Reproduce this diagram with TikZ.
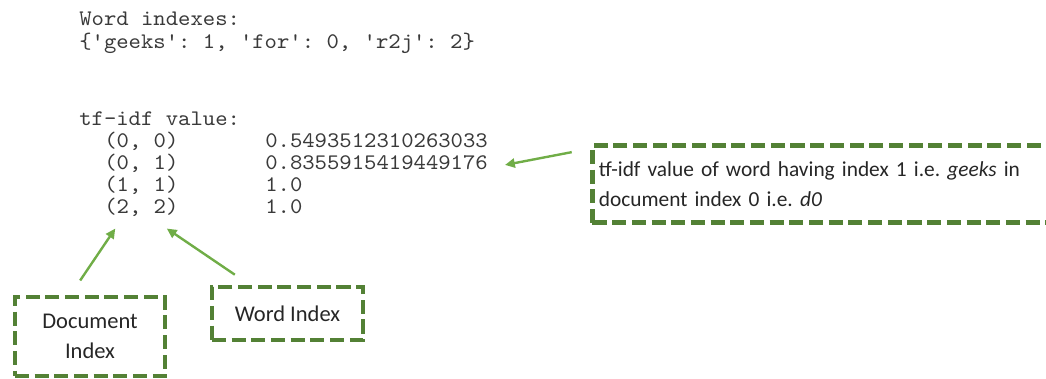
\documentclass[tikz,border=0pt]{standalone}
\usepackage{fontspec}
\setmainfont{Carlito}
\setmonofont{lmmono10-regular.otf}[FakeStretch=1.06]
\usetikzlibrary{arrows.meta,positioning}
\usepackage{xcolor}
\definecolor{boxgreen}{HTML}{538135}
\definecolor{arrowgreen}{HTML}{70AD47}
\definecolor{codegray}{HTML}{3A3A3A}
\frenchspacing

\begin{document}
\begin{tikzpicture}[x=0.025cm, y=-0.025cm,
  code/.style = {anchor=base west, inner sep=0pt, text height=9pt, text depth=2.5pt, text=codegray, font=\ttfamily\fontsize{15.8}{18}\selectfont},
  note/.style = {draw=boxgreen, line width=3.5pt, dash pattern=on 10pt off 4pt, text=black!85, font=\fontsize{16}{21.3}\selectfont},
  pointer/.style = {draw=arrowgreen, line width=1.7pt, -{Triangle[length=7pt,width=6.5pt]}}]
  \useasboundingbox (0,0) rectangle (1046,378);
  % program output
  \node[code] (words) at (79,25) {Word indexes:};
  \node[code] (dict) at (79,48) {\{'geeks': 1, 'for': 0, 'r2j': 2\}};
  \node[code] (tfidf) at (79,125) {tf-idf value:};
  \node[code] (r1) at (104,147) {(0, 0)};
  \node[code] (v1) at (265,147) {0.5493512310263033};
  \node[code] (r2) at (104,169.5) {(0, 1)};
  \node[code] (v2) at (265,169.5) {0.8355915419449176};
  \node[code] (r3) at (104,191.5) {(1, 1)};
  \node[code] (v3) at (265,191.5) {1.0};
  \node[code] (r4) at (104,213.5) {(2, 2)};
  \node[code] (v4) at (265,213.5) {1.0};
  % callouts
  \node[note, anchor=north west, minimum width=356pt, minimum height=54.8pt, inner xsep=4.5pt, text width=347pt, align=left,
        font=\fontsize{15.2}{21.3}\selectfont] (desc) at (590,143)
    {tf-idf value of word having index 1 i.e. \textit{geeks} in\\document index 0 i.e. \textit{d0}};
  \node[note, minimum width=106.7pt, minimum height=56.2pt, align=center] (docidx) at (90,336.5) {Document\\Index};
  \node[note, minimum width=107.4pt, minimum height=37.7pt] (wordidx) at (287.5,313.5) {Word Index};
  \draw[pointer] ([shift={(-13pt,-6.5pt)}]desc.north west) -- ([shift={(12pt,0pt)}]v2.east);
  \draw[pointer] ([shift={(-7pt,10pt)}]docidx.north) -- ([shift={(8pt,-8pt)}]r4.south west);
  \draw[pointer] ([shift={(18pt,7pt)}]wordidx.north west) -- ([shift={(-8.5pt,-8pt)}]r4.south east);
\end{tikzpicture}
\end{document}
